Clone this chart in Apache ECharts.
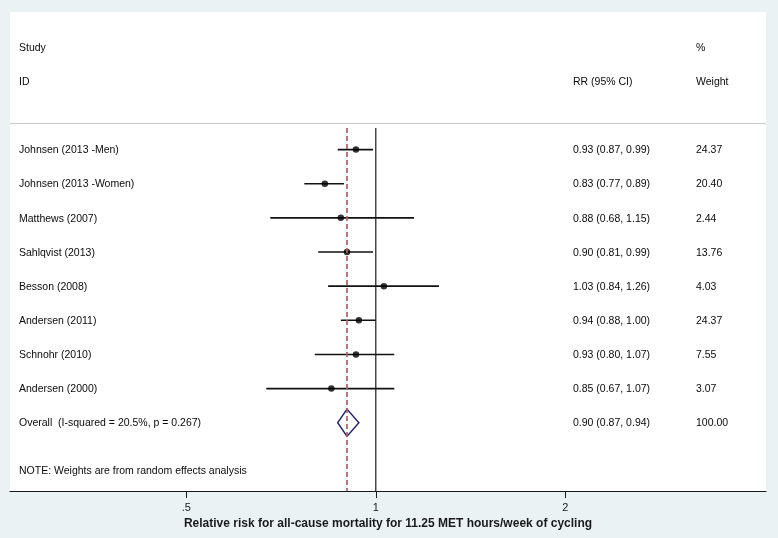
<!DOCTYPE html>
<html>
<head>
<meta charset="utf-8">
<script src="https://cdn.jsdelivr.net/npm/echarts@6/dist/echarts.min.js"></script>
<style>
html,body{margin:0;padding:0;background:#eaf2f4;}
#chart{width:778px;height:538px;}
</style>
</head>
<body>
<div id="chart"></div>
<script>
// ---- data ----
var studies = ['Johnsen (2013 -Men)', 'Johnsen (2013 -Women)', 'Matthews (2007)', 'Sahlqvist (2013)',
  'Besson (2008)', 'Andersen (2011)', 'Schnohr (2010)', 'Andersen (2000)'];
var rr = [0.93, 0.83, 0.88, 0.90, 1.03, 0.94, 0.93, 0.85];
var lo = [0.87, 0.77, 0.68, 0.81, 0.84, 0.88, 0.80, 0.67];
var hi = [0.99, 0.89, 1.15, 0.99, 1.26, 1.00, 1.07, 1.07];
var weights = ['24.37', '20.40', '2.44', '13.76', '4.03', '24.37', '7.55', '3.07'];
var overallLabel = 'Overall  (I-squared = 20.5%, p = 0.267)';
var overallRR = 0.90, overallLo = 0.87, overallHi = 0.94, overallWeight = '100.00';
var tickValues = [0.5, 1, 2];
var tickLabels = ['.5', '1', '2'];
var noteText = 'NOTE: Weights are from random effects analysis';
var axisTitle = 'Relative risk for all-cause mortality for 11.25 MET hours/week of cycling';

var FONT = '"Liberation Sans", Arial, sans-serif';
var nStudies = studies.length;
var overallRow = nStudies;

var chart = echarts.init(document.getElementById('chart'));

var pointData = rr.map(function (v, i) { return [v, i]; });
var ciData = rr.map(function (v, i) { return [lo[i], hi[i], i]; });

chart.setOption({
  backgroundColor: '#eaf2f4',
  animation: false,
  grid: {left: 10, right: 12, top: 12, bottom: 47, show: true, backgroundColor: '#ffffff', borderWidth: 0},
  xAxis: {
    type: 'log', logBase: 2, min: 0.2625, max: 4.165,
    axisLine: {show: true, onZero: false, lineStyle: {color: '#1a1a1a', width: 1.2}},
    axisTick: {show: true, customValues: tickValues, length: 7, lineStyle: {color: '#1a1a1a'}},
    axisLabel: {show: true, customValues: tickValues, margin: 11,
      fontFamily: FONT, fontSize: 11, color: '#1a1a1a',
      formatter: function (v) { var k = tickValues.indexOf(v); return k >= 0 ? tickLabels[k] : ''; }},
    splitLine: {show: false},
    name: axisTitle, nameLocation: 'middle', nameGap: 23,
    nameTextStyle: {fontFamily: FONT, fontSize: 12, fontWeight: 'bold', color: '#1a1a1a'}
  },
  yAxis: {type: 'value', inverse: true, min: -4.03, max: 10, show: false},
  series: [
    { // separator line
      type: 'line', data: [], silent: true,
      markLine: {symbol: 'none', silent: true, label: {show: false},
        lineStyle: {color: '#c8c8c8', type: 'solid', width: 1.2},
        data: [{yAxis: -0.78}]}
    },
    { // null line at 1
      type: 'line', data: [[1, -0.63], [1, 10]], symbol: 'none', silent: true,
      lineStyle: {color: '#1a1a1a', width: 1.2}
    },
    { // overall estimate dashed line
      type: 'line', data: [[overallRR, -0.63], [overallRR, 10]], symbol: 'none', silent: true,
      lineStyle: {color: '#b0605f', width: 1.7, type: [5, 3]}
    },
    { // confidence intervals
      type: 'custom', data: ciData,
      renderItem: function (params, api) {
        var a = api.coord([api.value(0), api.value(2)]);
        var b = api.coord([api.value(1), api.value(2)]);
        return {type: 'line', shape: {x1: a[0], y1: a[1], x2: b[0], y2: b[1]},
          style: {stroke: '#111', lineWidth: 1.6}};
      }
    },
    { // point estimates
      type: 'scatter', data: pointData, symbol: 'circle', symbolSize: 6.5,
      itemStyle: {color: '#000'}
    },
    { // overall diamond
      type: 'custom', data: [[overallLo, overallRR, overallHi, overallRow]],
      renderItem: function (params, api) {
        var r = api.value(3);
        var p1 = api.coord([api.value(0), r]);
        var p2 = api.coord([api.value(1), r - 0.4]);
        var p3 = api.coord([api.value(2), r]);
        var p4 = api.coord([api.value(1), r + 0.4]);
        return {type: 'polygon', shape: {points: [p1, p2, p3, p4]},
          style: {fill: 'none', stroke: '#1c1c6e', lineWidth: 1.4}};
      }
    }
  ]
});

// ---- text columns ----
function rowY(r) { return chart.convertToPixel({yAxisIndex: 0}, r); }
var colStudy = 19, colRR = 573, colW = 696;
var txt = [];
function addText(x, r, s) {
  txt.push({type: 'text', x: x, y: rowY(r) + 0.8,
    style: {text: s, fontFamily: FONT, fontSize: 10.5, fill: '#0a0a0a', textVerticalAlign: 'middle', textAlign: 'left'}});
}
addText(colStudy, -3, 'Study');
addText(colStudy, -2, 'ID');
addText(colW, -3, '%');
addText(colRR, -2, 'RR (95% CI)');
addText(colW, -2, 'Weight');
for (var i = 0; i < nStudies; i++) {
  addText(colStudy, i, studies[i]);
  addText(colRR, i, rr[i].toFixed(2) + ' (' + lo[i].toFixed(2) + ', ' + hi[i].toFixed(2) + ')');
  addText(colW, i, weights[i]);
}
addText(colStudy, overallRow, overallLabel);
addText(colRR, overallRow, overallRR.toFixed(2) + ' (' + overallLo.toFixed(2) + ', ' + overallHi.toFixed(2) + ')');
addText(colW, overallRow, overallWeight);
addText(colStudy, 9.38, noteText);
chart.setOption({graphic: txt});
</script>
</body>
</html>
